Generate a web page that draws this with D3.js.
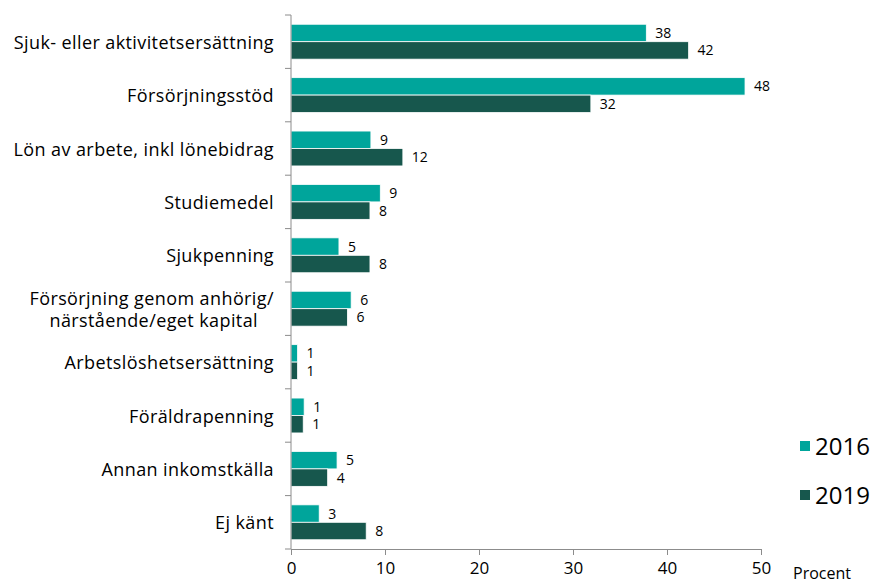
<!DOCTYPE html>
<html><head><meta charset="utf-8">
<script src="https://cdn.jsdelivr.net/npm/d3@7"></script>
<style>body{margin:0;background:#fff}svg{display:block}text{font-family:"Open Sans","Liberation Sans",Arial,sans-serif;fill:#000}</style>
</head><body><svg id="c" width="875" height="583"></svg>
<script>
const categories = [
  ["Sjuk- eller aktivitetsersättning"],
  ["Försörjningsstöd"],
  ["Lön av arbete, inkl lönebidrag"],
  ["Studiemedel"],
  ["Sjukpenning"],
  ["Försörjning genom anhörig/", "närstående/eget kapital"],
  ["Arbetslöshetsersättning"],
  ["Föräldrapenning"],
  ["Annan inkomstkälla"],
  ["Ej känt"]
];
const series = ["2016", "2019"];
const values2016 = [37.8, 48.3, 8.5, 9.5, 5.1, 6.4, 0.7, 1.4, 4.9, 3.0];
const values2019 = [42.3, 31.9, 11.9, 8.4, 8.4, 6.0, 0.7, 1.3, 3.9, 8.0];
const labels2016 = ["38", "48", "9", "9", "5", "6", "1", "1", "5", "3"];
const labels2019 = ["42", "32", "12", "8", "8", "6", "1", "1", "4", "8"];
const xTicks = [0, 10, 20, 30, 40, 50];
const colors = ["#00A59B", "#17574D"];

const svg = d3.select("#c");
const x = d3.scaleLinear().domain([0, 50]).range([291, 761]);
const y = d3.scaleBand().domain(d3.range(categories.length)).range([15, 549]).padding(0);
const sub = d3.scaleBand().domain([0, 1]).range([0, y.bandwidth()]).paddingInner(0).paddingOuter(0.53);
const vals = [values2016, values2019];
const labs = [labels2016, labels2019];

// bars
series.forEach((s, si) => {
  svg.append("g").selectAll("rect").data(vals[si]).join("rect")
    .attr("x", x(0)).attr("y", (d, i) => y(i) + sub(si))
    .attr("width", d => x(d) - x(0)).attr("height", sub.bandwidth())
    .attr("fill", colors[si]).attr("stroke", "#fff").attr("stroke-width", 0.8);
  svg.append("g").selectAll("text").data(vals[si]).join("text")
    .attr("x", d => x(d) + 9).attr("y", (d, i) => y(i) + sub(si) + sub.bandwidth() / 2)
    .attr("dy", "0.36em").attr("font-size", 14)
    .text((d, i) => labs[si][i]);
});

// x axis
const xa = svg.append("g").attr("transform", "translate(0,549)")
  .call(d3.axisBottom(x).tickValues(xTicks).tickSize(6).tickPadding(7).tickSizeOuter(0));
xa.select(".domain").attr("stroke", "#8c8c8c");
xa.selectAll(".tick line").attr("stroke", "#8c8c8c");
xa.selectAll(".tick text").attr("font-size", 17).attr("font-family", "Open Sans, Liberation Sans, Arial, sans-serif").attr("fill", "#000");
svg.append("text").attr("x", 793).attr("y", 579).attr("font-size", 16).text("Procent");

// y axis
const ya = svg.append("g").attr("transform", "translate(291,0)");
ya.append("line").attr("x1", 0).attr("x2", 0).attr("y1", 15).attr("y2", 549).attr("stroke", "#8c8c8c");
ya.selectAll(".t").data(d3.range(categories.length + 1)).join("line")
  .attr("x1", -6).attr("x2", 0)
  .attr("y1", i => i < categories.length ? y(i) : 549)
  .attr("y2", i => i < categories.length ? y(i) : 549)
  .attr("stroke", "#8c8c8c");

// category labels
categories.forEach((lines, i) => {
  const cy = y(i) + y.bandwidth() / 2 + 1;
  const t = svg.append("text").attr("font-size", 18).attr("letter-spacing", 0.4).attr("text-anchor", "end");
  const lh = 22;
  lines.forEach((ln, k) => {
    t.append("tspan").attr("x", 274 - k * 16)
      .attr("y", cy + (k - (lines.length - 1) / 2) * lh)
      .attr("dy", "0.34em").text(ln);
  });
});

// legend
series.forEach((s, si) => {
  const ly = 446 + si * 49;
  svg.append("rect").attr("x", 800).attr("y", ly - 5).attr("width", 10).attr("height", 10).attr("fill", colors[si]);
  svg.append("text").attr("x", 815).attr("y", ly).attr("dy", "0.36em").attr("font-size", 24).text(s);
});
</script></body></html>
